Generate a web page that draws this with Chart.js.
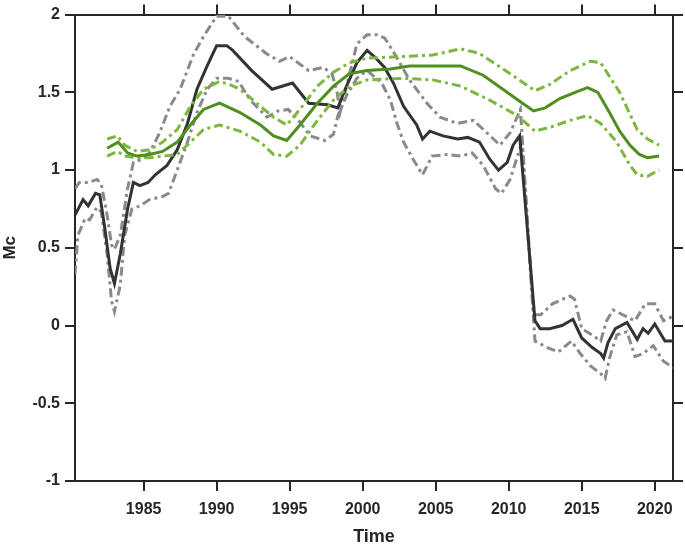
<!DOCTYPE html>
<html>
<head>
<meta charset="utf-8">
<script src="https://cdn.jsdelivr.net/npm/chart.js@4/dist/chart.umd.min.js"></script>
<style>
  html, body { margin: 0; padding: 0; background: #fff; }
  #wrap { width: 685px; height: 544px; }
</style>
</head>
<body>
<div id="wrap"><canvas id="mc-chart"></canvas></div>
<script>
// axis ticks
const xTicks = [1985, 1990, 1995, 2000, 2005, 2010, 2015, 2020];
const yTicks = [-1, -0.5, 0, 0.5, 1, 1.5, 2];

// black series (Mc) and its bounds
const blackYears = [1980.3, 1980.85, 1981.2, 1981.7, 1982.0, 1982.35, 1982.7, 1983.0, 1983.4, 1983.9,
  1984.3, 1984.75, 1985.3, 1985.8, 1986.6, 1987.3, 1988.0, 1988.65, 1989.35, 1990.0,
  1990.7, 1991.1, 1992.4, 1993.8, 1995.2, 1996.3, 1997.6, 1998.3, 1998.8, 1999.6,
  2000.3, 2000.9, 2001.5, 2002.1, 2002.8, 2003.7, 2004.1, 2004.6, 2005.5, 2006.5,
  2007.2, 2008.0, 2008.7, 2009.3, 2009.9, 2010.3, 2010.75, 2011.8, 2012.15, 2012.8,
  2013.65, 2014.4, 2015.0, 2015.7, 2016.3, 2016.5, 2016.8, 2017.3, 2018.1, 2018.8,
  2019.2, 2019.55, 2020.0, 2020.7, 2021.25];
const blackVals = [0.71, 0.81, 0.77, 0.85, 0.84, 0.62, 0.37, 0.27, 0.46, 0.75,
  0.92, 0.90, 0.92, 0.97, 1.03, 1.13, 1.30, 1.52, 1.67, 1.80,
  1.80, 1.77, 1.64, 1.52, 1.56, 1.43, 1.42, 1.40, 1.52, 1.69,
  1.77, 1.72, 1.66, 1.56, 1.41, 1.29, 1.20, 1.25, 1.22, 1.20,
  1.21, 1.18, 1.07, 1.00, 1.05, 1.16, 1.22, 0.03, -0.02, -0.02,
  0.00, 0.04, -0.08, -0.14, -0.18, -0.21, -0.11, -0.02, 0.02, -0.09,
  -0.02, -0.05, 0.01, -0.10, -0.10];

const grayUpYears = [1980.3, 1980.6, 1981.2, 1981.8, 1982.1, 1982.5, 1982.8, 1983.0, 1983.4, 1983.9,
  1984.3, 1984.9, 1985.4, 1986.1, 1986.8, 1987.5, 1988.4, 1989.1, 1990.0, 1990.8,
  1991.9, 1993.4, 1994.3, 1995.0, 1996.3, 1997.3, 1997.9, 1998.25, 1998.45, 1998.9,
  1999.6, 2000.3, 2001.0, 2001.5, 2002.3, 2003.2, 2004.4, 2005.3, 2006.5, 2007.6,
  2008.5, 2009.4, 2010.1, 2010.8, 2011.7, 2012.2, 2013.0, 2014.2, 2014.5, 2015.0,
  2015.7, 2016.3, 2016.7, 2017.15, 2018.0, 2018.65, 2019.35, 2020.0, 2020.6, 2021.25];
const grayUpVals = [0.88, 0.92, 0.92, 0.94, 0.91, 0.71, 0.52, 0.49, 0.58, 0.88,
  1.05, 1.07, 1.11, 1.24, 1.41, 1.52, 1.74, 1.86, 1.99, 1.99,
  1.86, 1.75, 1.70, 1.73, 1.64, 1.66, 1.62, 1.50, 1.37, 1.54,
  1.81, 1.87, 1.87, 1.85, 1.73, 1.58, 1.43, 1.34, 1.30, 1.32,
  1.24, 1.16, 1.24, 1.39, 0.07, 0.07, 0.14, 0.19, 0.17, -0.02,
  -0.06, -0.10, 0.03, 0.10, 0.06, 0.03, 0.14, 0.14, 0.03, 0.06];

const grayLoYears = [1980.3, 1980.5, 1981.0, 1981.3, 1981.8, 1982.1, 1982.5, 1982.8, 1983.0, 1983.4,
  1983.7, 1984.2, 1984.75, 1985.4, 1986.3, 1986.7, 1987.3, 1988.0, 1988.65, 1989.35,
  1990.0, 1990.8, 1991.5, 1992.3, 1993.45, 1994.2, 1994.9, 1995.6, 1996.4, 1997.4,
  1998.0, 1998.3, 1998.9, 1999.6, 2000.3, 2001.3, 2001.9, 2002.35, 2002.8, 2003.45,
  2004.1, 2004.75, 2005.8, 2006.7, 2007.5, 2008.25, 2009.1, 2009.5, 2010.1, 2010.6,
  2010.9, 2011.8, 2012.6, 2013.4, 2014.3, 2014.9, 2015.6, 2016.3, 2016.6, 2016.9,
  2017.4, 2018.1, 2018.65, 2019.2, 2019.9, 2020.6, 2021.25];
const grayLoVals = [0.33, 0.58, 0.69, 0.68, 0.76, 0.73, 0.46, 0.16, 0.09, 0.26,
  0.58, 0.75, 0.77, 0.81, 0.83, 0.85, 1.00, 1.18, 1.37, 1.52,
  1.59, 1.59, 1.57, 1.45, 1.34, 1.38, 1.39, 1.32, 1.22, 1.19,
  1.23, 1.35, 1.48, 1.59, 1.64, 1.56, 1.45, 1.30, 1.18, 1.07,
  0.97, 1.09, 1.10, 1.09, 1.11, 1.03, 0.88, 0.85, 0.94, 1.09,
  1.18, -0.10, -0.14, -0.17, -0.10, -0.18, -0.26, -0.31, -0.34, -0.21,
  -0.06, -0.04, -0.20, -0.18, -0.13, -0.23, -0.27];

// green series and its bounds
const greenYears = [1982.5, 1983.25, 1983.9, 1984.55, 1985.4, 1986.3, 1987.3, 1988.2, 1989.1, 1990.2,
  1990.9, 1991.6, 1993.0, 1993.9, 1994.8, 1995.7, 1996.9, 1998.0, 1999.1, 2000.3,
  2001.9, 2003.2, 2006.7, 2008.25, 2009.6, 2010.8, 2011.7, 2012.5, 2013.5, 2014.55,
  2015.4, 2016.1, 2016.9, 2017.6, 2018.3, 2018.95, 2019.5, 2020.3];
const greenVals = [1.14, 1.18, 1.11, 1.09, 1.10, 1.12, 1.18, 1.29, 1.39, 1.43,
  1.40, 1.37, 1.29, 1.22, 1.19, 1.29, 1.43, 1.54, 1.62, 1.64,
  1.65, 1.67, 1.67, 1.61, 1.52, 1.44, 1.38, 1.40, 1.46, 1.50,
  1.53, 1.50, 1.37, 1.25, 1.16, 1.10, 1.08, 1.09];

const greenUpYears = [1982.5, 1983.2, 1983.7, 1984.55, 1985.4, 1986.3, 1987.3, 1988.2, 1989.1, 1990.2,
  1990.9, 1991.6, 1993.0, 1993.9, 1994.8, 1995.7, 1996.9, 1998.0, 1999.1, 2000.3,
  2002.8, 2004.8, 2006.7, 2008.0, 2010.1, 2011.8, 2012.8, 2014.2, 2015.6, 2016.3,
  2017.6, 2018.8, 2019.5, 2020.3];
const greenUpVals = [1.20, 1.22, 1.16, 1.12, 1.13, 1.18, 1.26, 1.41, 1.52, 1.57,
  1.55, 1.52, 1.41, 1.34, 1.29, 1.39, 1.54, 1.63, 1.69, 1.72,
  1.73, 1.74, 1.78, 1.75, 1.62, 1.51, 1.55, 1.64, 1.70, 1.69,
  1.50, 1.26, 1.20, 1.16];

const greenLoYears = [1982.5, 1983.2, 1983.7, 1984.55, 1985.4, 1986.3, 1987.3, 1988.2, 1989.1, 1990.2,
  1990.9, 1991.6, 1993.0, 1993.9, 1994.8, 1995.7, 1996.9, 1998.0, 1999.1, 2000.3,
  2002.8, 2004.8, 2006.7, 2008.7, 2010.6, 2011.8, 2013.0, 2014.2, 2015.4, 2016.3,
  2017.4, 2018.3, 2018.8, 2019.5, 2020.3];
const greenLoVals = [1.09, 1.12, 1.09, 1.08, 1.08, 1.09, 1.10, 1.18, 1.26, 1.29,
  1.27, 1.25, 1.18, 1.10, 1.09, 1.16, 1.32, 1.45, 1.54, 1.58,
  1.59, 1.58, 1.54, 1.45, 1.35, 1.25, 1.28, 1.32, 1.35, 1.30,
  1.18, 1.03, 0.97, 0.96, 1.00];

const pts = (xs, ys) => xs.map((x, i) => ({ x: x, y: ys[i] }));
const dashDot = [9, 4, 3, 4];
const axisColor = "#262626";

Chart.defaults.font.family = "'Liberation Sans', Arial, sans-serif";
Chart.defaults.font.weight = "bold";
Chart.defaults.font.size = 16;
Chart.defaults.color = axisColor;

const setTicks = (list) => (scale) => {
  scale.ticks = list.map((v) => ({ value: v }));
};

const line = (data, color, dash, width) => ({
  data: data,
  borderColor: color,
  borderWidth: width,
  borderDash: dash,
  pointRadius: 0,
  fill: false,
  tension: 0,
});

const ctx = document.getElementById("mc-chart").getContext("2d");
new Chart(ctx, {
  type: "line",
  data: {
    datasets: [
      line(pts(greenYears, greenVals), "#4f8f1f", [], 3),
      line(pts(greenUpYears, greenUpVals), "#7cb83f", dashDot, 3),
      line(pts(greenLoYears, greenLoVals), "#7cb83f", dashDot, 3),
      line(pts(blackYears, blackVals), "#333333", [], 3),
      line(pts(grayUpYears, grayUpVals), "#8a8a8a", dashDot, 3),
      line(pts(grayLoYears, grayLoVals), "#8a8a8a", dashDot, 3),
    ],
  },
  options: {
    responsive: true,
    maintainAspectRatio: false,
    animation: false,
    layout: { padding: 0 },
    plugins: { legend: { display: false }, tooltip: { enabled: false } },
    scales: {
      x: {
        type: "linear",
        position: "bottom",
        min: 1980.3,
        max: 2021.25,
        afterBuildTicks: setTicks(xTicks),
        afterFit: (s) => { s.height = 63; },
        grid: { drawOnChartArea: false, tickLength: 10, color: axisColor, lineWidth: 2 },
        border: { color: axisColor, width: 2 },
        ticks: { padding: 9, maxRotation: 0, autoSkip: false, callback: (v) => String(v) },
        title: { display: true, text: "Time", font: { size: 18, weight: "bold" }, padding: { top: 0, bottom: -4 } },
      },
      x2: {
        type: "linear",
        position: "top",
        min: 1980.3,
        max: 2021.25,
        afterBuildTicks: setTicks(xTicks),
        afterFit: (s) => { s.height = 11; },
        grid: { drawOnChartArea: false, tickLength: 10, color: axisColor, lineWidth: 2 },
        border: { color: axisColor, width: 2 },
        ticks: { display: false },
      },
      y: {
        type: "linear",
        position: "left",
        min: -1,
        max: 2,
        afterBuildTicks: setTicks(yTicks),
        afterFit: (s) => { s.width = 75; },
        grid: { drawOnChartArea: false, tickLength: 10, color: axisColor, lineWidth: 2 },
        border: { color: axisColor, width: 2 },
        ticks: { padding: 5, callback: (v) => String(v) },
        title: { display: true, text: "Mc", font: { size: 17, weight: "bold" }, padding: 0 },
      },
      y2: {
        type: "linear",
        position: "right",
        min: -1,
        max: 2,
        afterBuildTicks: setTicks(yTicks),
        afterFit: (s) => { s.width = 12; },
        grid: { drawOnChartArea: false, tickLength: 10, color: axisColor, lineWidth: 2 },
        border: { color: axisColor, width: 2 },
        ticks: { display: false },
      },
    },
  },
});
</script>
</body>
</html>
